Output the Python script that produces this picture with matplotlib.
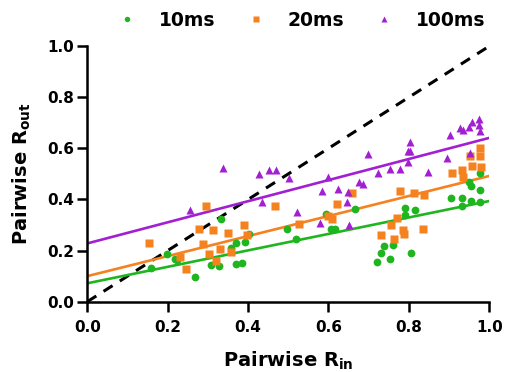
import numpy as np
import matplotlib
matplotlib.use("Agg")
import matplotlib.pyplot as plt

# pairwise correlations (R_in, R_out)
r_in_10 = [0.158, 0.199, 0.218, 0.222, 0.267, 0.307, 0.327, 0.333, 0.357, 0.371,
           0.371, 0.386, 0.393, 0.402, 0.498, 0.520, 0.593, 0.605, 0.616, 0.666,
           0.721, 0.731, 0.738, 0.752, 0.761, 0.790, 0.790, 0.804, 0.816, 0.905,
           0.932, 0.932, 0.949, 0.954, 0.955, 0.977, 0.978, 0.978]
r_out_10 = [0.130, 0.186, 0.168, 0.163, 0.098, 0.143, 0.141, 0.323, 0.212, 0.228,
            0.147, 0.153, 0.233, 0.265, 0.283, 0.244, 0.342, 0.283, 0.283, 0.362,
            0.156, 0.192, 0.218, 0.168, 0.222, 0.365, 0.339, 0.192, 0.358, 0.404,
            0.407, 0.375, 0.469, 0.452, 0.394, 0.502, 0.437, 0.391]

r_in_20 = [0.154, 0.231, 0.245, 0.279, 0.288, 0.295, 0.302, 0.313, 0.319, 0.330,
           0.350, 0.357, 0.391, 0.397, 0.466, 0.527, 0.600, 0.609, 0.620, 0.658,
           0.731, 0.755, 0.762, 0.770, 0.778, 0.786, 0.788, 0.813, 0.836, 0.837,
           0.907, 0.933, 0.934, 0.952, 0.956, 0.977, 0.977, 0.979]
r_out_20 = [0.228, 0.176, 0.129, 0.283, 0.226, 0.374, 0.188, 0.280, 0.160, 0.206,
            0.269, 0.193, 0.299, 0.262, 0.375, 0.304, 0.335, 0.325, 0.382, 0.424,
            0.262, 0.302, 0.246, 0.327, 0.432, 0.280, 0.263, 0.426, 0.283, 0.417,
            0.502, 0.515, 0.489, 0.571, 0.531, 0.600, 0.570, 0.528]

r_in_100 = [0.255, 0.337, 0.427, 0.435, 0.452, 0.470, 0.502, 0.522, 0.580, 0.585,
            0.599, 0.624, 0.645, 0.648, 0.650, 0.677, 0.685, 0.698, 0.722, 0.754,
            0.777, 0.797, 0.799, 0.803, 0.803, 0.848, 0.895, 0.903, 0.927, 0.935,
            0.949, 0.952, 0.957, 0.975, 0.975, 0.977]
r_out_100 = [0.359, 0.525, 0.499, 0.391, 0.515, 0.515, 0.485, 0.352, 0.309, 0.433,
             0.489, 0.441, 0.389, 0.430, 0.301, 0.468, 0.460, 0.578, 0.505, 0.520,
             0.519, 0.591, 0.548, 0.626, 0.591, 0.508, 0.561, 0.654, 0.678, 0.671,
             0.684, 0.580, 0.703, 0.713, 0.691, 0.668]

# linear fits (intercept, slope) as drawn
fit_10 = (0.072, 0.322)
fit_20 = (0.100, 0.392)
fit_100 = (0.228, 0.413)

labels = ["10ms", "20ms", "100ms"]
colors = ["#1fb51f", "#f5821f", "#a21fd2"]
markers = ["o", "s", "^"]

plt.rcParams["font.family"] = "DejaVu Sans"
plt.rcParams["font.weight"] = "bold"

fig = plt.figure(figsize=(5.06, 3.72), dpi=100)
ax = fig.add_axes([0.1725, 0.189, 0.7945, 0.687])

xs = np.array([0.0, 1.0])
ax.plot(xs, xs, "k--", lw=2.2, dashes=(3.5, 2.8), zorder=1)

series = [(r_in_10, r_out_10, fit_10), (r_in_20, r_out_20, fit_20),
          (r_in_100, r_out_100, fit_100)]
handles = []
for (x, y, fit), lab, c, m in zip(series, labels, colors, markers):
    h, = ax.plot(x, y, m, color=c, ms=5.6 if m != "^" else 6.2, mec="none",
                 ls="none", label=lab, zorder=3)
    handles.append(h)
    ax.plot(xs, fit[0] + fit[1] * xs, color=c, lw=1.9, zorder=2)

ax.set_xlim(0, 1)
ax.set_ylim(0, 1)
ticks = np.arange(0, 1.01, 0.2)
ax.set_xticks(ticks)
ax.set_yticks(ticks)
ax.set_xticklabels([f"{t:.1f}" for t in ticks], fontsize=11, fontweight="bold")
ax.set_yticklabels([f"{t:.1f}" for t in ticks], fontsize=11, fontweight="bold")
ax.tick_params(width=1.8, length=7.5, direction="out")
ax.tick_params(axis="x", pad=6)
ax.tick_params(axis="y", pad=2)
for s in ["top", "right"]:
    ax.spines[s].set_visible(False)
for s in ["left", "bottom"]:
    ax.spines[s].set_linewidth(1.8)

ax.set_xlabel(r"Pairwise R$_\mathbf{in}$", fontsize=14, fontweight="bold", labelpad=10)
ax.set_ylabel(r"Pairwise R$_\mathbf{out}$", fontsize=14, fontweight="bold", labelpad=10)

leg = fig.legend(handles=handles, loc="upper left",
                 bbox_to_anchor=(118 / 506, 1 - 11 / 372),
                 ncol=3, frameon=False, fontsize=13.5, markerscale=0.7,
                 handlelength=1.0, columnspacing=1.63, handletextpad=1.2,
                 borderpad=0, borderaxespad=0)
for t in leg.get_texts():
    t.set_fontweight("bold")

fig.savefig("out.png", dpi=100)
